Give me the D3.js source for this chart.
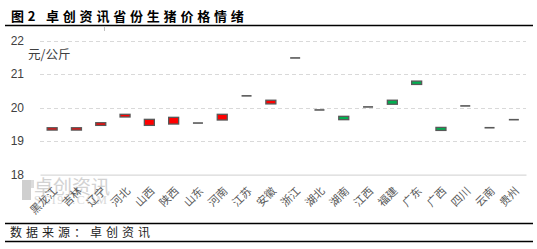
<!DOCTYPE html>
<html>
<head>
<meta charset="utf-8">
<script src="https://cdn.jsdelivr.net/npm/d3@7"></script>
<style>
  body { margin: 0; background: #fff; }
  svg { display: block; }
</style>
</head>
<body>
<script>
// provinces and open / close prices (元/公斤)
var provinces = ["黑龙江", "吉林", "辽宁", "河北", "山西", "陕西", "山东", "河南", "江苏", "安徽",
                 "浙江", "湖北", "湖南", "江西", "福建", "广东", "广西", "四川", "云南", "贵州"];
var openVals  = [19.33, 19.33, 19.47, 19.72, 19.47, 19.51, 19.54, 19.63, 20.35, 20.11,
                 21.48, 19.93, 19.74, 20.02, 20.22, 20.79, 19.41, 20.05, 19.40, 19.64];
var closeVals = [19.40, 19.40, 19.55, 19.80, 19.65, 19.71, 19.54, 19.80, 20.35, 20.22,
                 21.48, 19.93, 19.64, 20.02, 20.10, 20.69, 19.32, 20.05, 19.40, 19.64];
var yTicks = [18, 19, 20, 21, 22];

var W = 537, H = 249;
var plotLeft = 40, plotRight = 526, plotTop = 40.5, plotBottom = 174.7;
var cjk = "'Noto Sans CJK SC', 'Liberation Sans', sans-serif";

var svg = d3.select("body").append("svg")
    .attr("width", W)
    .attr("height", H);

// title + rules
svg.append("text")
    .attr("x", 11)
    .attr("y", 21)
    .style("font-family", cjk)
    .style("font-size", "13px")
    .style("font-weight", "bold")
    .style("letter-spacing", "3.8px")
    .attr("fill", "#000")
    .text("图2 卓创资讯省份生猪价格情绪");

svg.append("line").attr("x1", 5).attr("x2", 533).attr("y1", 25.5).attr("y2", 25.5)
    .attr("stroke", "#000").attr("stroke-width", 1.3);
svg.append("line").attr("x1", 104.5).attr("x2", 104.5).attr("y1", 26).attr("y2", 31)
    .attr("stroke", "#bfbfbf").attr("stroke-width", 1);

svg.append("line").attr("x1", 5).attr("x2", 533).attr("y1", 223.5).attr("y2", 223.5)
    .attr("stroke", "#000").attr("stroke-width", 1.3);
svg.append("line").attr("x1", 5).attr("x2", 533).attr("y1", 241.5).attr("y2", 241.5)
    .attr("stroke", "#000").attr("stroke-width", 1.3);

svg.append("text")
    .attr("x", 10)
    .attr("y", 237)
    .style("font-family", cjk)
    .style("font-size", "12px")
    .style("letter-spacing", "4px")
    .attr("fill", "#222")
    .text("数据来源：卓创资讯");

// scales
var x = d3.scaleBand()
    .domain(provinces)
    .range([plotLeft, plotRight]);

var y = d3.scaleLinear()
    .domain([18, 22])
    .range([plotBottom, plotTop]);

// watermark
var wm = svg.append("g").attr("opacity", 0.8);
wm.append("rect").attr("x", 22).attr("y", 180).attr("width", 9).attr("height", 20).attr("fill", "#c4c4c4");
wm.append("rect").attr("x", 31).attr("y", 180).attr("width", 3).attr("height", 8).attr("fill", "#d4d4d4");
wm.append("text").attr("x", 34).attr("y", 194)
    .style("font-family", cjk).style("font-size", "19px")
    .attr("fill", "#c8c8c8").text("卓创资讯");
wm.append("text").attr("x", 34).attr("y", 204)
    .style("font-family", "'Liberation Serif', serif").style("font-size", "12px")
    .style("letter-spacing", "1.5px")
    .attr("fill", "#d0d0d0").text("SCI99.COM");

// grid lines
svg.append("g")
    .selectAll("line")
    .data(yTicks.filter(function (d) { return d > 18; }))
    .enter().append("line")
    .attr("x1", plotLeft).attr("x2", plotRight)
    .attr("y1", function (d) { return Math.round(y(d)) + 0.5; })
    .attr("y2", function (d) { return Math.round(y(d)) + 0.5; })
    .attr("stroke", "#d9d9d9")
    .attr("stroke-width", 1)
    .attr("stroke-dasharray", "4,3");

// y axis (labels only)
var yAxis = d3.axisLeft(y)
    .tickValues(yTicks)
    .tickFormat(d3.format("d"))
    .tickSize(0)
    .tickPadding(0);

var yg = svg.append("g")
    .attr("transform", "translate(24,0)")
    .call(yAxis);
yg.select(".domain").remove();
yg.selectAll("text")
    .style("font-family", "'Liberation Sans', Arial, sans-serif")
    .style("font-size", "12px")
    .attr("fill", "#404040");

svg.append("text")
    .attr("x", 28)
    .attr("y", 59)
    .style("font-family", cjk)
    .style("font-size", "12.5px")
    .attr("fill", "#404040")
    .text("元/公斤");

// x axis
var xAxis = d3.axisBottom(x)
    .tickSize(0)
    .tickPadding(0);

var xg = svg.append("g")
    .attr("transform", "translate(0," + plotBottom + ")")
    .call(xAxis);
xg.select(".domain")
    .attr("stroke", "#d9d9d9")
    .attr("stroke-width", 1.2);
xg.selectAll("text")
    .style("font-family", cjk)
    .style("font-size", "11px")
    .attr("fill", "#595959")
    .attr("text-anchor", "end")
    .attr("dy", 0)
    .attr("y", 0)
    .attr("transform", "translate(6,17) rotate(-45)");

// candles
var rows = provinces.map(function (p, i) {
    return { name: p, open: openVals[i], close: closeVals[i] };
});

var bw = 10;
svg.append("g")
    .selectAll("rect")
    .data(rows)
    .enter().append("rect")
    .attr("x", function (d) { return x(d.name) + x.bandwidth() / 2 - bw / 2; })
    .attr("y", function (d) {
        var t = y(Math.max(d.open, d.close));
        return d.open === d.close ? t - 0.8 : t;
    })
    .attr("width", bw)
    .attr("height", function (d) {
        return d.open === d.close ? 1.6 : Math.abs(y(d.open) - y(d.close));
    })
    .attr("fill", function (d) {
        if (d.close > d.open) return "#ff0000";
        if (d.close < d.open) return "#00b050";
        return "#595959";
    })
    .attr("stroke", "#595959")
    .attr("stroke-width", function (d) { return d.open === d.close ? 0 : 1.3; });
</script>
</body>
</html>
